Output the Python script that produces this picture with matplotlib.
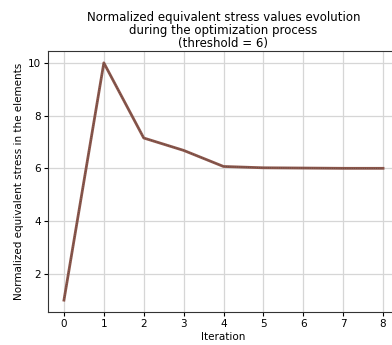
import matplotlib
matplotlib.use("Agg")
import matplotlib.pyplot as plt

# stress history, normalized
iterations = [0, 1, 2, 3, 4, 5, 6, 7, 8]
stress = [1.0, 10.0, 7.15, 6.68, 6.07, 6.02, 6.01, 6.0, 6.0]
threshold = 6


def main():
    fig = plt.figure(figsize=(3.92, 3.45), dpi=100)
    ax = fig.add_axes([48 / 392, 33 / 345, 351 / 392, 261 / 345])

    ax.plot(iterations, stress, color='#8c564b', linewidth=2, zorder=3)
    ax.plot(iterations, stress, color='#5a4a44', linewidth=0.6, linestyle=':', zorder=4)

    ax.grid(True, color='#d6d6d6', linewidth=0.9)
    ax.set_axisbelow(True)
    ax.set_xticks(iterations)
    ax.set_yticks([2, 4, 6, 8, 10])
    ax.tick_params(labelsize=7.5, length=3, width=0.8, pad=2)
    for s in ax.spines.values():
        s.set_color('#333333')

    ax.set_xlabel('Iteration', fontsize=7.5, labelpad=2)
    ax.set_ylabel('Normalized equivalent stress in the elements', fontsize=7.5, labelpad=3)
    ax.set_title('Normalized equivalent stress values evolution\n'
                 'during the optimization process\n'
                 '(threshold = {})'.format(threshold), fontsize=8.5, linespacing=1.0, pad=3)

    fig.savefig('out.png', dpi=100)


if __name__ == "__main__":
    main()
